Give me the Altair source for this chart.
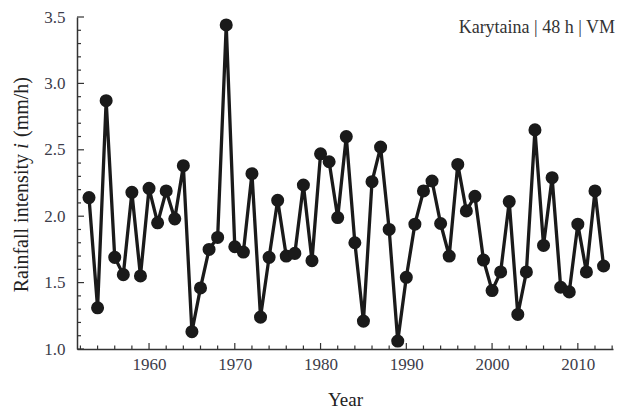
import altair as alt
import pandas as pd

years = list(range(1953, 2014))
intensity = [
    2.14, 1.31, 2.87, 1.69, 1.56, 2.18, 1.55, 2.21, 1.95, 2.19,
    1.98, 2.38, 1.13, 1.46, 1.75, 1.84, 3.44, 1.77, 1.73, 2.32,
    1.24, 1.69, 2.12, 1.70, 1.72, 2.235, 1.665, 2.47, 2.41, 1.99,
    2.60, 1.80, 1.21, 2.26, 2.52, 1.90, 1.06, 1.54, 1.94, 2.19,
    2.265, 1.945, 1.70, 2.39, 2.04, 2.15, 1.67, 1.44, 1.58, 2.11,
    1.26, 1.58, 2.65, 1.78, 2.29, 1.465, 1.43, 1.94, 1.58, 2.19,
    1.625,
]
x_major = [1960, 1970, 1980, 1990, 2000, 2010]
x_minor = [1952, 1954, 1956, 1958, 1962, 1964, 1966, 1968, 1972, 1974, 1976, 1978,
           1982, 1984, 1986, 1988, 1992, 1994, 1996, 1998, 2002, 2004, 2006, 2008,
           2012, 2014]
y_major = [1.0, 1.5, 2.0, 2.5, 3.0, 3.5]
y_minor = [1.1, 1.2, 1.3, 1.4, 1.6, 1.7, 1.8, 1.9, 2.1, 2.2, 2.3, 2.4,
           2.6, 2.7, 2.8, 2.9, 3.1, 3.2, 3.3, 3.4]
annotation = "Karytaina | 48 h | VM"

df = pd.DataFrame({"year": years, "i": intensity})

W, H = 536, 332
FONT = "Liberation Serif"
LABEL_COLOR = "#3c3c4a"
INK = "#1a1a1a"
TICK = "#333333"

xscale = alt.Scale(domain=[1951.6, 2014.1], nice=False, zero=False)
yscale = alt.Scale(domain=[1.0, 3.5], nice=False, zero=False)

line = alt.Chart(df).mark_line(color=INK, strokeWidth=3.3).encode(
    x=alt.X("year:Q", scale=xscale,
            axis=alt.Axis(values=x_major, format="d", ticks=False,
                          grid=False, domainColor=TICK, domainWidth=1.5,
                          labelFont=FONT, labelFontSize=17, labelColor=LABEL_COLOR,
                          labelPadding=7, title="Year", titleFont=FONT,
                          titleFontSize=19, titleFontWeight="normal",
                          titleColor="#222222", titlePadding=18)),
    y=alt.Y("i:Q", scale=yscale,
            axis=alt.Axis(values=y_major, format=".1f", ticks=False,
                          grid=False, domainColor=TICK, domainWidth=1.5,
                          labelFont=FONT, labelFontSize=17, labelColor=LABEL_COLOR,
                          labelPadding=12, title=None)),
)

points = alt.Chart(df).mark_circle(color=INK, opacity=1, size=170).encode(
    x=alt.X("year:Q", scale=xscale),
    y=alt.Y("i:Q", scale=yscale),
)

def xticks(vals, length):
    return alt.Chart(pd.DataFrame({"v": vals})).mark_rule(color=TICK, strokeWidth=1.2).encode(
        x=alt.X("v:Q", scale=xscale), y=alt.value(H), y2=alt.value(H - length))

def yticks(vals, length):
    return alt.Chart(pd.DataFrame({"v": vals})).mark_rule(color=TICK, strokeWidth=1.2).encode(
        y=alt.Y("v:Q", scale=yscale), x=alt.value(0), x2=alt.value(length))

one = pd.DataFrame({"k": [0]})
title_style = dict(font=FONT, fontSize=20, angle=270, baseline="middle", color="#222222")
t1 = alt.Chart(one).mark_text(align="right", **title_style).encode(
    x=alt.value(-55), y=alt.value(137), text=alt.value("Rainfall intensity"))
t2 = alt.Chart(one).mark_text(align="center", fontStyle="italic", **title_style).encode(
    x=alt.value(-55), y=alt.value(129), text=alt.value("i"))
t3 = alt.Chart(one).mark_text(align="left", **title_style).encode(
    x=alt.value(-55), y=alt.value(120), text=alt.value("(mm/h)"))

note = alt.Chart(one).mark_text(align="right", baseline="middle", font=FONT,
                                fontSize=18, color="#333333").encode(
    x=alt.value(538), y=alt.value(11), text=alt.value(annotation))

chart = alt.layer(
    line,
    xticks(x_major, 6), xticks(x_minor, 3.5),
    yticks(y_major, 7), yticks(y_minor, 4),
    points, t1, t2, t3, note,
).properties(
    width=W, height=H,
    autosize=alt.AutoSizeParams(type="none"),
    padding={"left": 69, "top": 9, "right": 5, "bottom": 60},
).configure_view(stroke=None)

chart.save("out.html", embed_options={"renderer": "svg", "actions": False})
